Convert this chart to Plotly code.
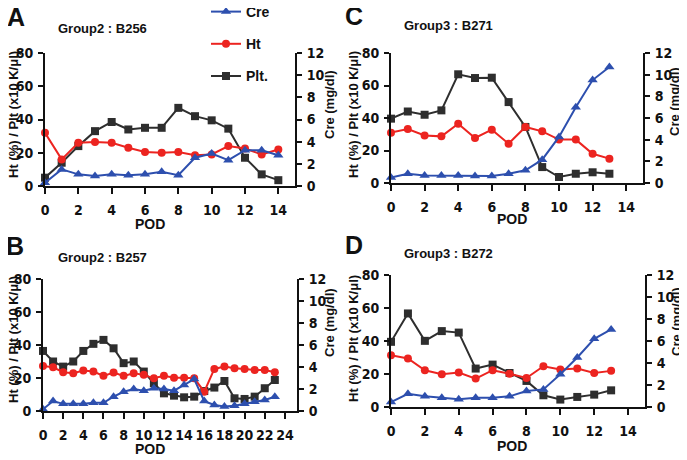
import plotly.graph_objects as go

# ---------------- data ----------------
pod_A = list(range(0, 15))
cre_A = [0.30, 1.50, 1.05, 0.90, 1.05, 0.98, 1.05, 1.28, 0.98, 2.55, 2.93, 2.33, 3.23, 3.23, 2.78]
ht_A = [32, 16, 26, 26.5, 26, 23, 20.5, 20, 20.5, 18.5, 19, 24, 22.5, 19, 22]
plt_A = [5, 14, 24, 33, 38.5, 34, 35, 35, 47, 42, 39.5, 34.5, 17, 7, 3.5]

pod_B = list(range(0, 24))
cre_B = [0.15, 0.90, 0.65, 0.65, 0.65, 0.75, 0.75, 1.30, 1.75, 2.00, 1.85, 2.07,
         2.00, 1.85, 2.37, 2.90, 0.90, 0.55, 0.40, 0.48, 0.65, 0.85, 1.00, 1.30]
ht_B = [27.3, 26.5, 23.5, 22.9, 24.5, 23.9, 21.3, 23.3, 21.3, 22.9, 21.9, 19.8,
        21.3, 20.2, 20.2, 19.8, 11.7, 25.5, 26.9, 25.9, 25.5, 24.9, 24.9, 23.5]
plt_B = [36.4, 30, 26.9, 30, 36.4, 40.7, 43.1, 38, 29, 30, 23.9, 16.8,
         10.7, 9.3, 8.3, 8.7, 12.1, 14.2, 18.2, 7.7, 7.3, 8.7, 13.8, 18.8]

pod_C = list(range(0, 14))
cre_C = [0.50, 0.85, 0.70, 0.70, 0.70, 0.65, 0.65, 0.85, 1.17, 2.15, 4.25, 7.00, 9.50, 10.70]
ht_C = [31, 33.2, 29.3, 28.7, 36.5, 27.7, 32.8, 24.2, 34.5, 31.8, 26.7, 26.7, 18, 15]
plt_C = [39.6, 44, 42, 44.7, 66.9, 64.6, 64.8, 49.8, 34.5, 9.8, 3.7, 5.7, 6.6, 5.7]

pod_D = list(range(0, 14))
cre_D = [0.45, 1.20, 0.97, 0.85, 0.70, 0.85, 0.85, 0.97, 1.45, 1.60, 2.97, 4.50, 6.20, 7.05]
ht_D = [31.4, 29.4, 22.3, 19.8, 20.9, 17.2, 22.3, 20.2, 17.6, 24.7, 22.7, 23.3, 20.6, 21.9]
plt_D = [39.5, 56.7, 40.1, 46, 45.1, 23.3, 25.7, 20.6, 15.8, 7.1, 4.5, 6.1, 7.5, 10.1]

panel_letters = ["A", "B", "C", "D"]
panel_titles = ["Group2 : B256", "Group2 : B257", "Group3 : B271", "Group3 : B272"]
series_names = ["Cre", "Ht", "Plt."]
left_title = "Ht (%) / Plt (x10 K/\u03bcl)"
right_title = "Cre (mg/dl)"
x_title = "POD"

# ---------------- styling ----------------
W, H = 687, 460
OFF = 8  # page body margin: screen pixel = figure pixel + OFF
BLUE = "#2d4fae"
RED = "#ec2420"
BLACK = "#2e2e2e"
AX = "#111111"
TICKFONT = dict(family="Liberation Sans Narrow, DejaVu Sans Condensed, Arial Narrow, sans-serif",
                size=14, color="#111111", weight="bold")
TITLEFONT = dict(family="Liberation Sans, Arial, sans-serif", size=13, color="#111111", weight="bold")

def px_x(p):
    return (p - OFF) / W

def px_y(p):
    return 1 - (p - OFF) / H

# target screen pixel boxes: (left, right, top, bottom) and text positions
panels = [
    dict(key=1, letter="A", title=panel_titles[0], pod=pod_A, cre=cre_A, ht=ht_A, plt=plt_A,
         box=(45, 295, 53, 186), xmax=15, letter_pos=(15.5, 17), title_pos=(56, 29),
         lt=(13, 115), rt=(329, 105), xt=(150, 224)),
    dict(key=3, letter="B", title=panel_titles[1], pod=pod_B, cre=cre_B, ht=ht_B, plt=plt_B,
         box=(43, 297, 279, 411), xmax=25.2, letter_pos=(15, 246), title_pos=(56, 257),
         lt=(13, 340), rt=(329, 323), xt=(150, 449)),
    dict(key=2, letter="C", title=panel_titles[2], pod=pod_C, cre=cre_C, ht=ht_C, plt=plt_C,
         box=(391, 643, 53, 183), xmax=15, letter_pos=(354, 16), title_pos=(402, 25),
         lt=(353, 114), rt=(674, 102), xt=(512, 219)),
    dict(key=4, letter="D", title=panel_titles[3], pod=pod_D, cre=cre_D, ht=ht_D, plt=plt_D,
         box=(391, 645, 275, 407), xmax=15, letter_pos=(354, 245), title_pos=(402, 253),
         lt=(353, 338), rt=(676, 322), xt=(512, 446)),
]

fig = go.Figure()
layout = dict(
    width=W, height=H,
    margin=dict(l=0, r=0, t=0, b=0, autoexpand=False),
    paper_bgcolor="white", plot_bgcolor="white",
    showlegend=True,
    legend=dict(x=px_x(206), y=px_y(-4), xanchor="left", yanchor="top",
                font=dict(family="Liberation Sans, Arial, sans-serif", size=14, color="#111111", weight="bold"),
                tracegroupgap=11, bgcolor="rgba(0,0,0,0)", itemwidth=30),
)
annotations = []

def add_text(text, x, y, font, angle=0, xanchor="center"):
    annotations.append(dict(text=text, x=px_x(x), y=px_y(y), xref="paper", yref="paper",
                            xanchor=xanchor, yanchor="middle", showarrow=False, font=font,
                            textangle=angle))

for p in panels:
    k = p["key"]
    left, right, top, bottom = p["box"]
    xa = "x" if k == 1 else f"x{k}"
    ya = "y" if k == 1 else f"y{k}"
    ya2 = f"y{k + 4}"
    show = p["letter"] == "A"

    fig.add_trace(go.Scatter(x=p["pod"], y=p["plt"], name=series_names[2], mode="lines+markers",
                             line=dict(color=BLACK, width=2), marker=dict(symbol="square", size=8, color=BLACK),
                             xaxis=xa, yaxis=ya, showlegend=show, legendgroup="plt", legendrank=3,
                             cliponaxis=False))
    fig.add_trace(go.Scatter(x=p["pod"], y=p["ht"], name=series_names[1], mode="lines+markers",
                             line=dict(color=RED, width=2), marker=dict(symbol="circle", size=8, color=RED),
                             xaxis=xa, yaxis=ya, showlegend=show, legendgroup="ht", legendrank=2,
                             cliponaxis=False))
    fig.add_trace(go.Scatter(x=p["pod"], y=p["cre"], name=series_names[0], mode="lines+markers",
                             line=dict(color=BLUE, width=2), marker=dict(symbol="triangle-up", size=9, color=BLUE),
                             xaxis=xa, yaxis=ya2, showlegend=show, legendgroup="cre", legendrank=1,
                             cliponaxis=False))

    xdom = [px_x(left), px_x(right)]
    ydom = [px_y(bottom), px_y(top)]
    layout["xaxis" if k == 1 else f"xaxis{k}"] = dict(
        domain=xdom, anchor=ya, range=[0, p["xmax"]], dtick=2, tick0=0, automargin=False,
        tickangle=0,
        showline=True, linecolor=AX, linewidth=2, ticks="outside", ticklen=6, tickwidth=2, tickcolor=AX,
        showgrid=False, zeroline=False, tickfont=TICKFONT, ticklabelstandoff=4,
    )
    layout["yaxis" if k == 1 else f"yaxis{k}"] = dict(
        domain=ydom, anchor=xa, range=[0, 80], dtick=20, automargin=False,
        showline=True, linecolor=AX, linewidth=2, ticks="outside", ticklen=5, tickwidth=2, tickcolor=AX,
        showgrid=False, zeroline=False, tickfont=TICKFONT, ticklabelstandoff=2,
    )
    layout[f"yaxis{k + 4}"] = dict(
        domain=ydom, anchor=xa, overlaying=ya, side="right", range=[0, 12], dtick=2, automargin=False,
        showline=True, linecolor=AX, linewidth=2, ticks="outside", ticklen=5, tickwidth=2, tickcolor=AX,
        showgrid=False, zeroline=False, tickfont=TICKFONT, ticklabelstandoff=2,
    )
    add_text(p["letter"], *p["letter_pos"],
             font=dict(family="Liberation Sans, Arial, sans-serif", size=25, color="#111111", weight="bold"))
    add_text(p["title"], *p["title_pos"], font=TITLEFONT, xanchor="left")
    add_text(left_title, *p["lt"], font=TITLEFONT, angle=-90)
    add_text(right_title, *p["rt"], font=TITLEFONT, angle=-90)
    add_text(x_title, *p["xt"], font=dict(family="Liberation Sans, Arial, sans-serif", size=14,
                                          color="#111111", weight="bold"))

layout["annotations"] = annotations
fig.update_layout(**layout)
fig.write_html("out.html")
